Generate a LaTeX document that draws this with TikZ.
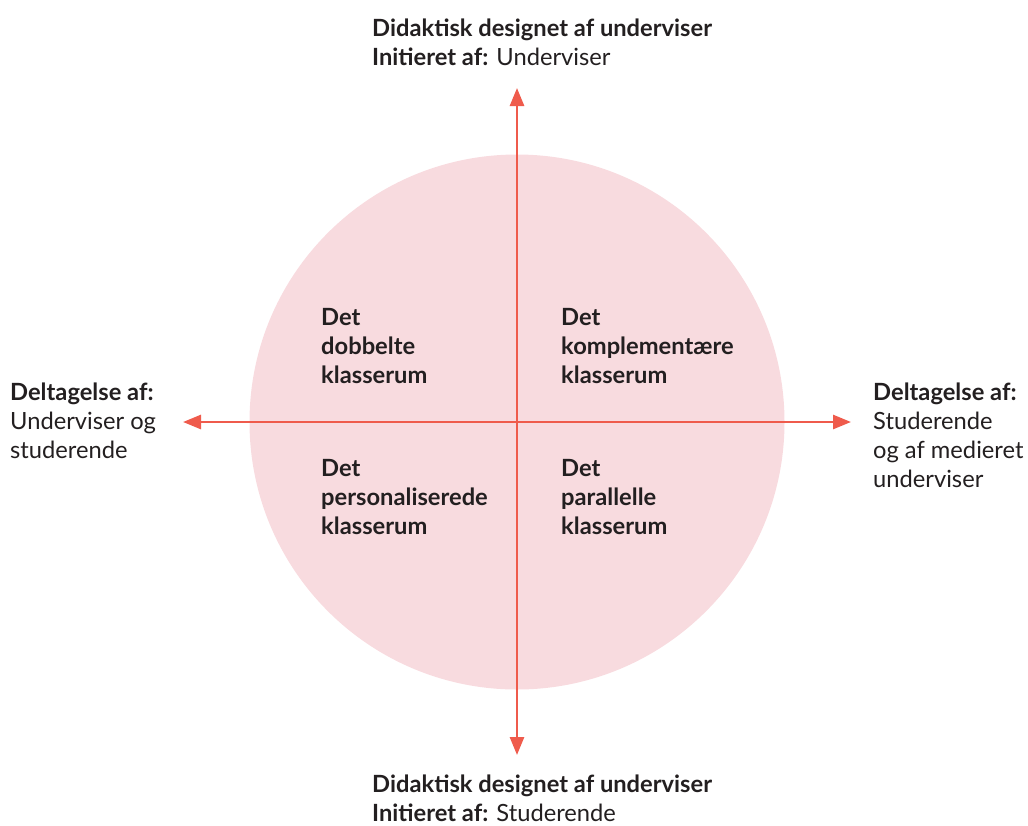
\documentclass[tikz,border=0pt]{standalone}
\usepackage{fontspec}
\setmainfont{Lato}
\usetikzlibrary{arrows.meta}
\definecolor{circfill}{HTML}{F8DBDF}
\definecolor{axisred}{HTML}{EF5B4C}
\definecolor{txt}{HTML}{231F20}
\begin{document}
\begin{tikzpicture}[x=1pt,y=-1pt,
  lbl/.style={anchor=base west,inner sep=0pt,align=left,text=txt,font=\fontsize{23.7}{29}\selectfont},
  quad/.style={anchor=base west,inner sep=0pt,align=left,text=txt,font=\fontsize{23.7}{29}\selectfont\bfseries},
  axis/.style={draw=axisred,line width=2.7pt,-{Triangle[length=18pt,width=14pt]}}]
\useasboundingbox (0,0) rectangle (1028,825);
\fill[circfill] (517,422) circle (267.5);
\coordinate (c) at (517,422);
\coordinate (top) at (517,88);
\coordinate (bot) at (517,755);
\coordinate (lft) at (183,422);
\coordinate (rgt) at (851,422);
\draw[axis] (c) -- (top);
\draw[axis] (c) -- (bot);
\draw[axis] (c) -- (lft);
\draw[axis] (c) -- (rgt);
\node[lbl] (tl) at (372,65) {\textbf{Didaktisk designet af underviser}\\\textbf{Initieret af:} Underviser};
\node[lbl] (bl) at (372,821.5) {\textbf{Didaktisk designet af underviser}\\\textbf{Initieret af:} Studerende};
\node[lbl] (ll) at (10,458) {\textbf{Deltagelse af:}\\Underviser og\\studerende};
\node[lbl] (rl) at (873,487) {\textbf{Deltagelse af:}\\Studerende\\og af medieret\\underviser};
\node[quad] (q1) at (321,383) {Det\\dobbelte\\klasserum};
\node[quad] (q2) at (561,383) {Det\\komplementære\\klasserum};
\node[quad] (q3) at (321,534) {Det\\personaliserede\\klasserum};
\node[quad] (q4) at (561,534) {Det\\parallelle\\klasserum};
\end{tikzpicture}
\end{document}
